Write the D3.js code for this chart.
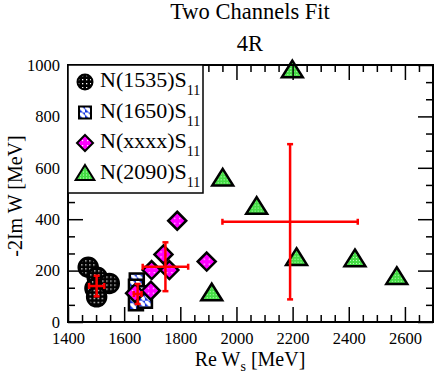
<!DOCTYPE html>
<html>
<head>
<meta charset="utf-8">
<script src="https://cdn.jsdelivr.net/npm/d3@7"></script>
<style>
  body { margin: 0; background: #fff; }
  svg, svg text { font-family: "Liberation Serif", "Times New Roman", Times, "DejaVu Serif", serif !important; }
</style>
</head>
<body>
<script>
// series values (Re W [MeV], -2Im W [MeV])
var n1535X = [1472, 1504, 1496, 1547, 1502];
var n1535Y = [213, 174, 131, 150, 98];
var n1650X = [1645, 1642, 1656, 1642, 1674];
var n1650Y = [161, 137, 112, 73, 83];
var nxxxxX = [1789, 1740, 1698, 1761, 1695, 1639, 1894];
var nxxxxY = [394, 263, 202, 202, 122, 112, 235];
var n2090X = [2199, 1951, 2072, 2214, 2422, 2571, 1912];
var n2090Y = [980, 559, 449, 250, 245, 176, 112];

// averaged poles with errors
var errX  = [1502, 1648, 1747, 2191];
var errY  = [140, 109, 215, 390];
var errDX = [27, 14, 81, 241];
var errDY = [40, 39, 95, 302];

var legendNames = ["N(1535)S", "N(1650)S", "N(xxxx)S", "N(2090)S"];
var xTicks = [1400, 1600, 1800, 2000, 2200, 2400, 2600];
var yTicks = [0, 200, 400, 600, 800, 1000];

var W = 436, H = 374;
var margin = {top: 65, right: 3, bottom: 52, left: 68},
    width = W - margin.left - margin.right,
    height = H - margin.top - margin.bottom;

var x = d3.scaleLinear().domain([1400, 2700]).range([0, width]);
var y = d3.scaleLinear().domain([0, 1000]).range([height, 0]);

var svg = d3.select("body").append("svg")
    .attr("width", W)
    .attr("height", H);

// fill patterns
var defs = svg.append("defs");
var pd = defs.append("pattern").attr("id", "pDots").attr("patternUnits", "userSpaceOnUse")
    .attr("width", 4).attr("height", 4);
pd.append("rect").attr("width", 4).attr("height", 4).attr("fill", "#000");
pd.append("rect").attr("x", 1).attr("y", 1).attr("width", 1.3).attr("height", 1.3).attr("fill", "#fff");

var pb = defs.append("pattern").attr("id", "pBlue").attr("patternUnits", "userSpaceOnUse")
    .attr("width", 6).attr("height", 6);
pb.append("rect").attr("width", 6).attr("height", 6).attr("fill", "#1030e0");
pb.append("path").attr("d", "M0,0L3,0L6,3L6,6L4,6L0,2Z").attr("fill", "#fff");

var pm = defs.append("pattern").attr("id", "pMag").attr("patternUnits", "userSpaceOnUse")
    .attr("width", 5).attr("height", 5);
pm.append("rect").attr("width", 5).attr("height", 5).attr("fill", "#ff00ff");
pm.append("rect").attr("x", 2).attr("y", 2).attr("width", 1.2).attr("height", 1.2).attr("fill", "#fff");

var pg = defs.append("pattern").attr("id", "pGreen").attr("patternUnits", "userSpaceOnUse")
    .attr("width", 3).attr("height", 3);
pg.append("rect").attr("width", 3).attr("height", 3).attr("fill", "#44dd44");
pg.append("rect").attr("x", 1).attr("y", 1).attr("width", 1).attr("height", 1).attr("fill", "#c8ffc8");

// symbol shapes
function circlePath(r) {
  return "M" + (-r) + ",0A" + r + "," + r + " 0 1,0 " + r + ",0A" + r + "," + r + " 0 1,0 " + (-r) + ",0Z";
}
function squarePath(s) { return "M" + (-s) + "," + (-s) + "H" + s + "V" + s + "H" + (-s) + "Z"; }
function diamondPath(s) { return "M0," + (-s) + "L" + s + ",0L0," + s + "L" + (-s) + ",0Z"; }
function trianglePath(s) {
  return "M0," + (-s) + "L" + (s * 1.1) + "," + (s * 0.75) + "L" + (-s * 1.1) + "," + (s * 0.75) + "Z";
}

var sets = [
  {xs: n1535X, ys: n1535Y, fill: "url(#pDots)", path: circlePath(9.5), lpath: circlePath(7.5)},
  {xs: n1650X, ys: n1650Y, fill: "url(#pBlue)", path: squarePath(7), lpath: squarePath(6)},
  {xs: nxxxxX, ys: nxxxxY, fill: "url(#pMag)", path: diamondPath(9), lpath: diamondPath(8)},
  {xs: n2090X, ys: n2090Y, fill: "url(#pGreen)", path: trianglePath(9.5), lpath: trianglePath(8.5)}
];

var g = svg.append("g")
    .attr("transform", "translate(" + margin.left + "," + margin.top + ")");

// data symbols
sets.forEach(function(s) {
  g.append("g").selectAll("path")
      .data(d3.range(s.xs.length))
    .enter().append("path")
      .attr("transform", function(i) { return "translate(" + x(s.xs[i]) + "," + y(s.ys[i]) + ")"; })
      .attr("d", s.path)
      .attr("fill", s.fill)
      .attr("stroke", "#000")
      .attr("stroke-width", 2.5);
});

// error crosses
var eg = g.append("g").attr("stroke", "#ff0000").attr("stroke-width", 2.5).attr("fill", "none");
errX.forEach(function(cx, i) {
  var x0 = x(cx - errDX[i]), x1 = x(cx + errDX[i]), yc = y(errY[i]);
  var y0 = y(errY[i] - errDY[i]), y1 = y(errY[i] + errDY[i]), xc = x(cx);
  eg.append("line").attr("x1", x0).attr("x2", x1).attr("y1", yc).attr("y2", yc);
  eg.append("line").attr("x1", xc).attr("x2", xc).attr("y1", y0).attr("y2", y1);
  eg.append("line").attr("x1", x0).attr("x2", x0).attr("y1", yc - 3).attr("y2", yc + 3);
  eg.append("line").attr("x1", x1).attr("x2", x1).attr("y1", yc - 3).attr("y2", yc + 3);
  eg.append("line").attr("x1", xc - 3).attr("x2", xc + 3).attr("y1", y0).attr("y2", y0);
  eg.append("line").attr("x1", xc - 3).attr("x2", xc + 3).attr("y1", y1).attr("y2", y1);
});

// axes with inward ticks on all four sides
var xMinor = d3.range(1450, 2700, 50).filter(function(v) { return v % 200 !== 0; });
var yMinor = d3.range(0, 1001, 200 / 3).filter(function(v, i) { return i % 3 !== 0; });

function styleAxis(sel) {
  sel.attr("font-family", null).attr("font-size", null);
  sel.select(".domain").remove();
  sel.selectAll("line").attr("stroke", "#000").attr("stroke-width", 1.5);
  sel.selectAll("text")
      .style("font-size", "16.5px")
      .attr("fill", "#000");
}

g.append("g").attr("transform", "translate(0," + height + ")")
    .call(d3.axisBottom(x).tickValues(xTicks).tickSizeInner(-15).tickPadding(10).tickFormat(d3.format("d")))
    .call(styleAxis);
g.append("g").attr("transform", "translate(0," + height + ")")
    .call(d3.axisBottom(x).tickValues(xMinor).tickSizeInner(-7).tickFormat(""))
    .call(styleAxis);
g.append("g")
    .call(d3.axisTop(x).tickValues(xTicks).tickSizeInner(-15).tickFormat(""))
    .call(styleAxis);
g.append("g")
    .call(d3.axisTop(x).tickValues(xMinor).tickSizeInner(-7).tickFormat(""))
    .call(styleAxis);

g.append("g")
    .call(d3.axisLeft(y).tickValues(yTicks).tickSizeInner(-15).tickPadding(8).tickFormat(d3.format("d")))
    .call(styleAxis);
g.append("g")
    .call(d3.axisLeft(y).tickValues(yMinor).tickSizeInner(-7).tickFormat(""))
    .call(styleAxis);
g.append("g").attr("transform", "translate(" + width + ",0)")
    .call(d3.axisRight(y).tickValues(yTicks).tickSizeInner(-15).tickFormat(""))
    .call(styleAxis);
g.append("g").attr("transform", "translate(" + width + ",0)")
    .call(d3.axisRight(y).tickValues(yMinor).tickSizeInner(-7).tickFormat(""))
    .call(styleAxis);

// frame
g.append("rect")
    .attr("width", width).attr("height", height)
    .attr("fill", "none").attr("stroke", "#000").attr("stroke-width", 2);

// legend
var leg = g.append("g");
leg.append("rect")
    .attr("width", 135).attr("height", 128)
    .attr("fill", "#fff").attr("stroke", "#000").attr("stroke-width", 1.5);
legendNames.forEach(function(name, i) {
  var ly = 17 + i * 30.5;
  leg.append("path")
      .attr("transform", "translate(17," + ly + ")")
      .attr("d", sets[i].lpath)
      .attr("fill", sets[i].fill)
      .attr("stroke", "#000")
      .attr("stroke-width", 2);
  var t = leg.append("text")
      .attr("x", 32).attr("y", ly + 5)
      .attr("font-size", 22)
      .text(name);
  t.append("tspan").attr("dy", 8).attr("font-size", 14).text("11");
});

// titles
svg.append("text").attr("x", 250).attr("y", 19).attr("text-anchor", "middle")
    .attr("font-size", 22.5).text("Two Channels Fit");
svg.append("text").attr("x", 250).attr("y", 51).attr("text-anchor", "middle")
    .attr("font-size", 22.5).text("4R");

var xl = svg.append("text").attr("x", 250).attr("y", 366).attr("text-anchor", "middle")
    .attr("font-size", 20).text("Re W");
xl.append("tspan").attr("dy", 5).attr("font-size", 14).text("s");
xl.append("tspan").attr("dy", -5).text(" [MeV]");

svg.append("text")
    .attr("transform", "translate(22,196) rotate(-90)")
    .attr("text-anchor", "middle")
    .attr("font-size", 20)
    .text("-2Im W [MeV]");
</script>
</body>
</html>
